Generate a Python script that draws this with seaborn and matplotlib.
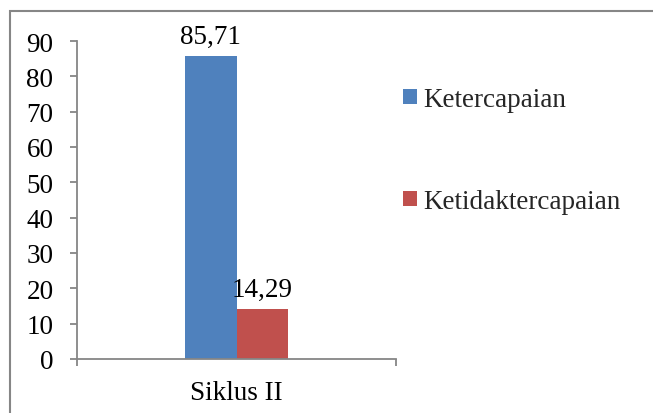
import matplotlib
matplotlib.use("Agg")
import matplotlib.pyplot as plt
import seaborn as sns
import pandas as pd
from matplotlib.patches import Rectangle, Patch

categories = ["Siklus II"]
series_names = ["Ketercapaian", "Ketidaktercapaian"]
values = [85.71, 14.29]
value_labels = ["85,71", "14,29"]
yticks = [0, 10, 20, 30, 40, 50, 60, 70, 80, 90]

sns.set_theme(style="white")
plt.rcParams['font.family'] = ['Liberation Serif', 'DejaVu Serif']

df = pd.DataFrame({"cat": categories * 2, "series": series_names, "val": values})
colors = ["#4F81BD", "#C0504D"]
gray = "#868686"
FS = 19.5

fig = plt.figure(figsize=(6.53, 4.14), dpi=100)
W, H = 653, 414
ax = fig.add_axes([77 / W, 1 - 360 / H, (396 - 77) / W, (360 - 42) / H])

sns.barplot(data=df, x="cat", y="val", hue="series", palette=colors,
            width=0.326, gap=0, dodge=True, ax=ax, saturation=1,
            edgecolor="none", linewidth=0)
ax.set_xlim(-0.5, 0.5)
ax.set_ylim(0, 90)
ax.set_yticks(yticks)
ax.set_xlabel("")
ax.set_ylabel("")

for sp in ["top", "right"]:
    ax.spines[sp].set_visible(False)
for sp in ["left", "bottom"]:
    ax.spines[sp].set_color(gray)
    ax.spines[sp].set_linewidth(1.3)

ax.tick_params(axis="y", which="major", length=5, width=1.3, color=gray,
               direction="out", left=True, pad=12, labelsize=FS, labelcolor="black")
ax.set_xticks([0])
ax.set_xticklabels(categories)
ax.tick_params(axis="x", which="major", length=0, pad=15, labelsize=FS, labelcolor="black")
ax.set_xticks([-0.5, 0.5], minor=True)
ax.tick_params(axis="x", which="minor", length=5, width=1.3, color=gray,
               direction="out", bottom=True)

for cont, lab in zip(ax.containers, value_labels):
    ax.bar_label(cont, labels=[lab], padding=5, fontsize=FS, color="black")

if ax.get_legend() is not None:
    ax.get_legend().remove()
handles = [Patch(facecolor=c, edgecolor="none") for c in colors]
fig.legend(handles, series_names, loc="upper left",
           bbox_to_anchor=(403 / W, 1 - 88 / H), frameon=False,
           fontsize=FS, handlelength=0.5, handleheight=0.5,
           handletextpad=0.25, labelspacing=2.85, borderpad=0, borderaxespad=0)

fig.patches.append(Rectangle((10 / W, -0.1), 1.2, 1.1 - 12.5 / H,
                             transform=fig.transFigure, fill=False,
                             edgecolor=gray, linewidth=1.5))

fig.savefig("out.png", dpi=100)
